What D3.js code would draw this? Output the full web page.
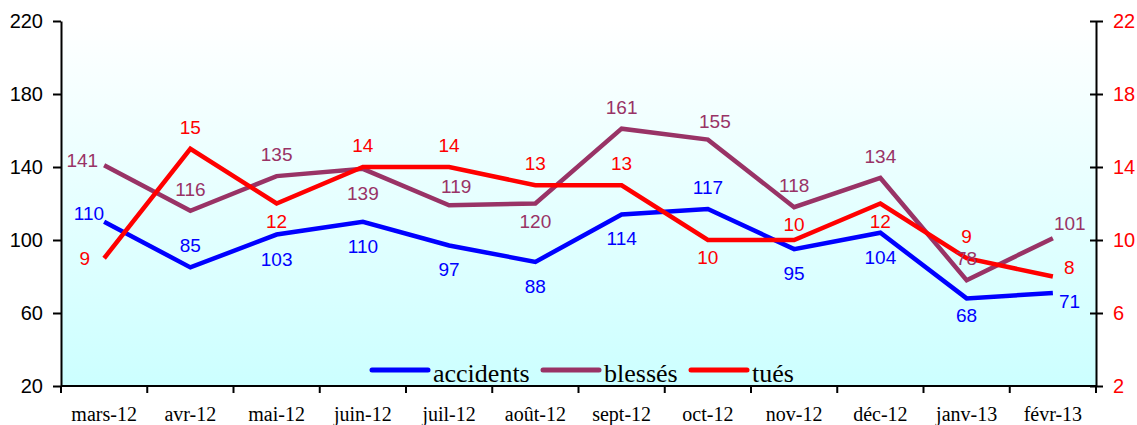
<!DOCTYPE html>
<html>
<head>
<meta charset="utf-8">
<script src="https://cdn.jsdelivr.net/npm/d3@7"></script>
<style>
  body { margin: 0; background: #fff; }
</style>
</head>
<body>
<div id="wrapper"></div>
<script>
const months = ["mars-12", "avr-12", "mai-12", "juin-12", "juil-12", "août-12",
  "sept-12", "oct-12", "nov-12", "déc-12", "janv-13", "févr-13"]
const accidents = [110, 85, 103, 110, 97, 88, 114, 117, 95, 104, 68, 71]
const blesses = [141, 116, 135, 139, 119, 120, 161, 155, 118, 134, 78, 101]
const tues = [9, 15, 12, 14, 14, 13, 13, 10, 10, 12, 9, 8]
const leftTicks = [20, 60, 100, 140, 180, 220]
const rightTicks = [2, 6, 10, 14, 18, 22]

// where each value label sits relative to its point
const accPlace = ["lt", "a", "b", "b", "b", "b", "b", "a", "b", "b", "b2", "r3"]
const blePlace = ["l", "a", "a", "b", "a3", "b2", "a", "a3", "a", "a", "a", "r1"]
const tuePlace = ["l9", "a", "b2", "a", "a", "a", "a", "b2", "a2", "b2", "a", "r2"]

const dimensions = {
  width: 1137,
  height: 425,
  margin: { top: 21, right: 41, bottom: 39, left: 61 },
}
dimensions.boundedWidth = dimensions.width - dimensions.margin.left - dimensions.margin.right
dimensions.boundedHeight = dimensions.height - dimensions.margin.top - dimensions.margin.bottom

const wrapper = d3.select("#wrapper").append("svg")
  .attr("width", dimensions.width)
  .attr("height", dimensions.height)

const defs = wrapper.append("defs")
const grad = defs.append("linearGradient")
  .attr("id", "bg").attr("x1", 0).attr("y1", 0).attr("x2", 0).attr("y2", 1)
grad.append("stop").attr("offset", "0%").attr("stop-color", "#ffffff")
grad.append("stop").attr("offset", "100%").attr("stop-color", "#ccffff")

const bounds = wrapper.append("g")
  .attr("transform", `translate(${dimensions.margin.left},${dimensions.margin.top})`)

bounds.append("rect")
  .attr("width", dimensions.boundedWidth)
  .attr("height", dimensions.boundedHeight)
  .attr("fill", "url(#bg)")

// scales
const xBand = d3.scaleBand()
  .domain(months)
  .range([0, dimensions.boundedWidth])
const xScale = d => xBand(d) + xBand.bandwidth() / 2

const yLeft = d3.scaleLinear().domain([20, 220]).range([dimensions.boundedHeight, 0])
const yRight = d3.scaleLinear().domain([2, 22]).range([dimensions.boundedHeight, 0])

// series
const series = [
  { name: "accidents", values: accidents, color: "#0000ff", scale: yLeft, place: accPlace },
  { name: "blessés", values: blesses, color: "#993366", scale: yLeft, place: blePlace },
  { name: "tués", values: tues, color: "#ff0000", scale: yRight, place: tuePlace },
]

const lineGen = (scale) => d3.line()
  .x((d, i) => xScale(months[i]))
  .y(d => scale(d))

series.forEach(s => {
  bounds.append("path")
    .datum(s.values)
    .attr("d", lineGen(s.scale))
    .attr("fill", "none")
    .attr("stroke", s.color)
    .attr("stroke-width", 4.5)
    .attr("stroke-linejoin", "miter")
})

const offsets = {
  a: [0, -15, "middle"],
  a2: [0, -9, "middle"],
  a3: [7, -12, "middle"],
  b: [0, 31, "middle"],
  b2: [0, 24, "middle"],
  l: [-6, 2, "end"],
  lt: [0, -2, "end"],
  l9: [-14, 7, "end"],
  r1: [1, -8, "start"],
  r2: [11, -3, "start"],
  r3: [6, 15, "start"],
}

series.forEach(s => {
  bounds.append("g").selectAll("text")
    .data(s.values)
    .join("text")
    .attr("x", (d, i) => xScale(months[i]) + offsets[s.place[i]][0])
    .attr("y", (d, i) => s.scale(d) + offsets[s.place[i]][1])
    .attr("text-anchor", (d, i) => offsets[s.place[i]][2])
    .attr("fill", s.color)
    .style("font-family", "Arial, 'Liberation Sans', sans-serif")
    .style("font-size", "19px")
    .text(d => d)
})

// axes
const yAxisLeft = bounds.append("g")
  .call(d3.axisLeft(yLeft).tickValues(leftTicks).tickSize(8).tickSizeOuter(0))
yAxisLeft.select(".domain").attr("stroke", "#000").attr("stroke-width", 2)
yAxisLeft.selectAll(".tick line").attr("stroke", "#000").attr("stroke-width", 2)
yAxisLeft.selectAll(".tick text")
  .attr("x", -18)
  .attr("fill", "#000")
  .style("font-family", "Arial, 'Liberation Sans', sans-serif")
  .style("font-size", "20px")

const yAxisRight = bounds.append("g")
  .attr("transform", `translate(${dimensions.boundedWidth},0)`)
  .call(d3.axisRight(yRight).tickValues(rightTicks).tickSize(7).tickSizeOuter(0))
yAxisRight.select(".domain").attr("stroke", "#000").attr("stroke-width", 2)
yAxisRight.selectAll(".tick line").attr("x1", -6).attr("stroke", "#000").attr("stroke-width", 2)
yAxisRight.selectAll(".tick text")
  .attr("x", 17)
  .attr("fill", "#ff0000")
  .style("font-family", "Arial, 'Liberation Sans', sans-serif")
  .style("font-size", "20px")

// category axis: ticks on band edges
const xAxis = bounds.append("g")
  .attr("transform", `translate(0,${dimensions.boundedHeight})`)
xAxis.append("line")
  .attr("x1", 0).attr("x2", dimensions.boundedWidth)
  .attr("stroke", "#000").attr("stroke-width", 2)
xAxis.selectAll(".edge")
  .data(months.concat(["end"]))
  .join("line")
  .attr("class", "edge")
  .attr("x1", (d, i) => i < months.length ? xBand(d) : dimensions.boundedWidth)
  .attr("x2", (d, i) => i < months.length ? xBand(d) : dimensions.boundedWidth)
  .attr("y1", 0).attr("y2", 7)
  .attr("stroke", "#000").attr("stroke-width", 2)
xAxis.selectAll(".lbl")
  .data(months)
  .join("text")
  .attr("class", "lbl")
  .attr("x", d => xScale(d))
  .attr("y", 35)
  .attr("text-anchor", "middle")
  .style("font-family", "'Times New Roman', 'Liberation Serif', serif")
  .style("font-size", "20px")
  .text(d => d)

// legend
const legend = bounds.append("g")
  .attr("transform", `translate(311,${dimensions.boundedHeight - 16})`)
const legendX = [0, 171, 319]
series.forEach((s, i) => {
  const item = legend.append("g").attr("transform", `translate(${legendX[i]},0)`)
  item.append("line")
    .attr("x1", 0).attr("x2", 56)
    .attr("stroke", s.color).attr("stroke-width", 5)
    .attr("stroke-linecap", "round")
  item.append("text")
    .attr("x", 61).attr("y", 12)
    .style("font-family", "'Times New Roman', 'Liberation Serif', serif")
    .style("font-size", "26px")
    .text(s.name)
})
</script>
</body>
</html>
